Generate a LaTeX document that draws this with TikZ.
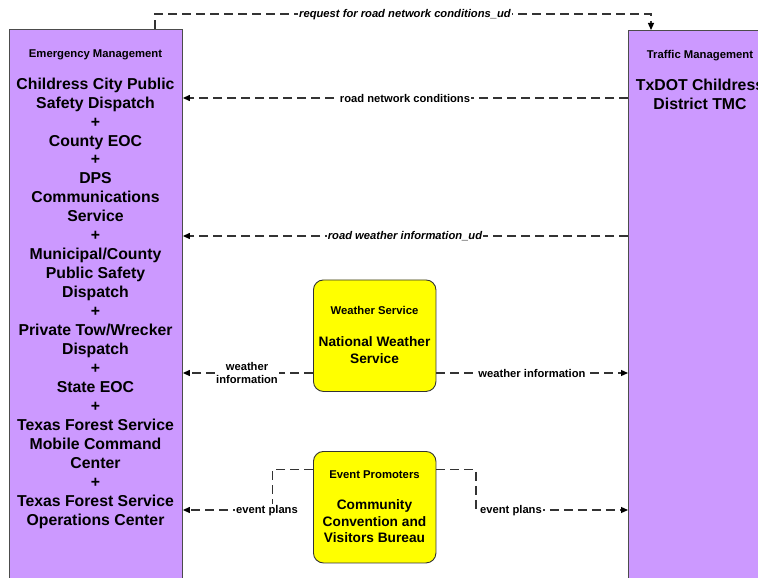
\documentclass[tikz,border=0pt]{standalone}
\usepackage{fontspec}
\setmainfont{Liberation Sans}
\usetikzlibrary{arrows.meta}
\definecolor{purp}{RGB}{204,153,255}
\definecolor{ylw}{RGB}{255,255,0}
\begin{document}
\begin{tikzpicture}[x=1pt,y=-1pt,
  ent/.style={draw=black!70, line width=0.9pt, fill=purp, inner sep=0pt},
  ybox/.style={draw=black!80, line width=0.9pt, fill=ylw, rounded corners=10pt, inner sep=0pt},
  ttl/.style={inner sep=0pt, font=\fontsize{11.3}{13.5}\selectfont\bfseries},
  mainf/.style={inner sep=0pt, align=center, font=\fontsize{15.8}{18.96}\selectfont\bfseries},
  ymain/.style={inner sep=0pt, align=center, font=\fontsize{13.7}{16.4}\selectfont\bfseries},
  conn/.style={draw=black!80, line width=1.2pt, dash pattern=on 9pt off 5pt, -{Triangle[length=7pt,width=6pt,fill=black,color=black]}},
  lbl/.style={fill=white, inner sep=1pt, align=center, font=\fontsize{11.2}{13.8}\selectfont\bfseries},
  ilbl/.style={lbl, font=\fontsize{11.2}{13.8}\selectfont\bfseries\itshape}]
\useasboundingbox (0,0) rectangle (758,578);
\clip (0,0) rectangle (758,578);
\fill[white] (0,0) rectangle (758,578);

% boxes
\node[ent, minimum width=173pt, minimum height=600pt, anchor=north west] (em) at (9,29) {};
\node[ent, minimum width=144pt, minimum height=600pt, anchor=north west] (tm) at (628,30) {};
\node[ybox, minimum width=122.5pt, minimum height=111.5pt, anchor=north west] (nws) at (313,279.5) {};
\node[ybox, minimum width=122.5pt, minimum height=111.5pt, anchor=north west] (ccvb) at (313,451) {};

% texts
\node[ttl, anchor=base] (emT) at (95.5,58) {Emergency Management};
\node[mainf, anchor=north] (emN) at (95.5,77.5) {Childress City Public\\Safety Dispatch\\+\\County EOC\\+\\DPS\\Communications\\Service\\+\\Municipal/County\\Public Safety\\Dispatch\\+\\Private Tow/Wrecker\\Dispatch\\+\\State EOC\\+\\Texas Forest Service\\Mobile Command\\Center\\+\\Texas Forest Service\\Operations Center};
\node[ttl, anchor=base] (tmT) at (700,59) {Traffic Management};
\node[mainf, anchor=north] (tmN) at (700,78.5) {TxDOT Childress\\District TMC};
\node[ttl, anchor=base] (nwsT) at (374.5,314.7) {Weather Service};
\node[ymain, anchor=north] (nwsN) at (374.5,336.5) {National Weather\\Service};
\node[ttl, anchor=base] (ccvbT) at (374.5,478) {Event Promoters};
\node[ymain, anchor=north] (ccvbN) at (374.5,499.5) {Community\\Convention and\\Visitors Bureau};

% connectors
\draw[conn] (em.north -| 155,0) -- (155,14) -- (651,14) -- (tm.north -| 651,0);
\draw[conn] (tm.west |- 0,98) -- (em.east |- 0,98);
\draw[conn] (tm.west |- 0,236) -- (em.east |- 0,236);
\draw[conn] (nws.west |- 0,373) -- (em.east |- 0,373);
\draw[conn] (nws.east |- 0,373) -- (tm.west |- 0,373);
\draw[conn] (ccvb.west |- 0,469.5) -- (272.5,469.5) -- (272.5,510) -- (em.east |- 0,510);
\draw[conn] (ccvb.east |- 0,469.5) -- (476,469.5) -- (476,510) -- (tm.west |- 0,510);

% labels
\node[ilbl] (l1) at (405,14.5) {request for road network conditions\_ud};
\node[lbl] (l2) at (405,98.5) {road network conditions};
\node[ilbl] (l3) at (405,236.5) {road weather information\_ud};
\node[lbl] (l4) at (247,373) {weather\\information};
\node[lbl] (l5) at (532,373.5) {weather information};
\node[lbl] (l6) at (267,510.5) {event plans};
\node[lbl] (l7) at (511,510.5) {event plans};
\end{tikzpicture}
\end{document}
